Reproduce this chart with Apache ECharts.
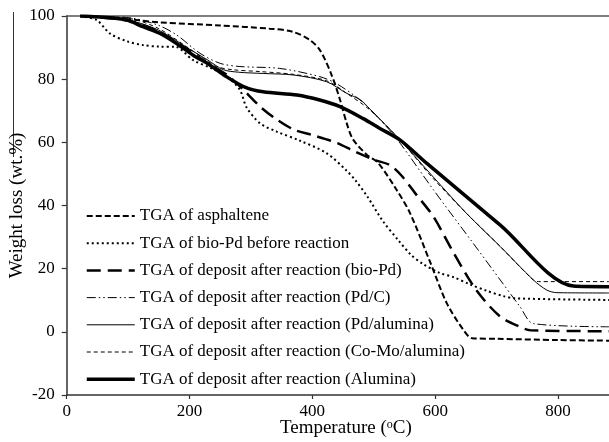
<!DOCTYPE html>
<html>
<head>
<meta charset="utf-8">
<script src="https://cdn.jsdelivr.net/npm/echarts@6/dist/echarts.min.js"></script>
<style>
  html, body { margin: 0; padding: 0; background: #fff; }
  #chart { width: 609px; height: 442px; }
</style>
</head>
<body>
<div id="chart"></div>
<script>
// temperatures (oC) and weight (wt.%)
const aspT = [22, 100, 150, 250, 330, 368, 396, 413, 432, 445, 456, 466, 489, 507, 537, 559, 592, 619, 646, 660, 700, 800, 883];
const aspW = [100, 99, 98, 97, 96, 95, 92.4, 89, 81, 73.5, 66, 61, 56, 53.5, 45, 37.6, 22, 9, 0.6, -2, -2.2, -2.6, -2.8];

const bioT = [22, 49, 70, 98, 124, 152, 176, 206, 235, 261, 282, 293, 315, 342, 380, 423, 456, 470, 489, 515, 540, 560, 580, 608, 630, 657, 684, 711, 730, 883];
const bioW = [100, 98.7, 94.5, 92, 90.8, 90.3, 90.3, 86, 83.5, 80.8, 76.6, 71, 66, 63.4, 60.5, 56.6, 51, 48, 43, 35, 29, 24.5, 21.5, 18.6, 17.3, 15, 13, 11.3, 10.6, 10.1];

const depBioT = [22, 100, 150, 200, 230, 260, 288, 315, 340, 370, 400, 440, 470, 500, 526, 545, 567, 597, 630, 667, 706, 738, 755, 883];
const depBioW = [100, 98.5, 95, 89, 85, 81.5, 76.6, 71.3, 67.5, 64, 62.3, 59.8, 57, 54.5, 52.8, 49.5, 44, 36.5, 25, 13.2, 4.8, 1.6, 0.5, 0.2];

const pdcT = [22, 60, 108, 150, 179, 217, 250, 282, 347, 412, 440, 480, 521, 543, 597, 662, 706, 738, 760, 883];
const pdcW = [100, 99.8, 99.3, 97, 94, 88.2, 85, 84, 83.4, 80.8, 78.5, 73, 64.9, 59.7, 45, 28, 16.4, 8, 2.6, 1.6];

const pdAlT = [22, 60, 100, 150, 200, 230, 255, 280, 320, 370, 423, 456, 478, 494, 543, 597, 651, 706, 760, 782, 798, 883];
const pdAlW = [100, 99.8, 98.8, 95.5, 89.5, 86, 83, 82.2, 81.8, 81.3, 79.2, 75.5, 73.5, 70.5, 60.7, 49, 37.5, 27, 16.4, 13.2, 12.4, 12.3];

const comoT = [22, 60, 108, 150, 195, 220, 244, 270, 315, 370, 423, 456, 494, 543, 597, 651, 706, 760, 771, 883];
const comoW = [100, 99.8, 99, 96, 90.3, 87, 84, 83, 82.4, 81.5, 79.5, 75.5, 70.2, 60.7, 48.5, 37.5, 27, 16.4, 15.9, 15.9];

const aluT = [22, 60, 98, 124, 152, 179, 206, 233, 260, 290, 320, 375, 412, 445, 483, 510, 543, 586, 706, 825, 883];
const aluW = [100, 99.6, 98.7, 96.6, 94.5, 91.3, 87.6, 84.5, 80.8, 77.5, 76, 75, 73.4, 71.3, 67.5, 64.4, 60.7, 53.4, 33.8, 14.5, 14.3];

const names = [
  'TGA of asphaltene',
  'TGA of bio-Pd before reaction',
  'TGA of deposit after reaction (bio-Pd)',
  'TGA of deposit after reaction (Pd/C)',
  'TGA of deposit after reaction (Pd/alumina)',
  'TGA of deposit after reaction (Co-Mo/alumina)',
  'TGA of deposit after reaction (Alumina)'
];
const xTicks = [0, 200, 400, 600, 800];
const yTicks = [-20, 0, 20, 40, 60, 80, 100];

const font = "'Liberation Serif', 'Times New Roman', serif";

// line width and dash for each curve, same order as names
const widths = [2, 2, 2.5, 1, 1, 1, 3.5];
const dashes = [[6, 3], [2, 3], [14, 7], [9, 3, 1.5, 3, 1.5, 3], 'solid', [4, 3], 'solid'];
const temps = [aspT, bioT, depBioT, pdcT, pdAlT, comoT, aluT];
const weights = [aspW, bioW, depBioW, pdcW, pdAlW, comoW, aluW];

function zip(t, w) {
  return t.map((v, i) => [v, w[i]]);
}

let chart = echarts.init(document.getElementById('chart'));
let option = {
  animation: false,
  backgroundColor: '#fff',
  textStyle: { fontFamily: font },
  grid: { left: 66.7, right: 0, top: 16, bottom: 47, outerBoundsMode: 'none', containLabel: false },
  // stray frame line at the top left of the scanned figure
  graphic: [{
    type: 'line',
    shape: { x1: 13.5, y1: 12, x2: 13.5, y2: 157 },
    style: { stroke: '#333', lineWidth: 1 },
    silent: true
  }],
  legend: {
    orient: 'vertical',
    left: 85,
    top: 207.5,
    padding: 0,
    itemWidth: 48,
    itemHeight: 14,
    itemGap: 10.2,
    itemStyle: { opacity: 0 },
    data: names.map((n, i) => ({ name: n, lineStyle: { width: widths[i] } })),
    textStyle: { fontFamily: font, fontSize: 17, lineHeight: 17, color: '#000' }
  },
  xAxis: [{
    type: 'value',
    min: 0,
    max: 883,
    interval: 200,
    name: '{a|Temperature (}{s|o}{a|C)}',
    nameLocation: 'middle',
    nameGap: 24,
    nameMoveOverlap: false,
    nameTextStyle: {
      padding: [0, 0, 0, 16],
      rich: {
        a: { fontFamily: font, fontSize: 19, color: '#000' },
        s: { fontFamily: font, fontSize: 12, color: '#000', verticalAlign: 'top', padding: [0, 0, 7, 0] }
      }
    },
    axisLine: { onZero: false, lineStyle: { color: '#333', width: 1.5 } },
    axisTick: { length: 4, lineStyle: { color: '#333', width: 1.2 } },
    axisLabel: {
      margin: 8, fontFamily: font, fontSize: 17, color: '#000', showMaxLabel: false,
      formatter: v => (xTicks.indexOf(v) >= 0 ? String(v) : '')
    },
    splitLine: { show: false }
  }, {
    type: 'value',
    position: 'top',
    min: 0,
    max: 883,
    axisLine: { show: true, onZero: false, lineStyle: { color: '#555', width: 1.5 } },
    axisTick: { show: false },
    axisLabel: { show: false },
    splitLine: { show: false }
  }],
  yAxis: {
    type: 'value',
    min: -20,
    max: 100,
    interval: 20,
    name: 'Weight loss (wt.%)',
    nameLocation: 'middle',
    nameGap: 40,
    nameMoveOverlap: false,
    nameTextStyle: { fontFamily: font, fontSize: 19, color: '#000' },
    axisLine: { show: true, onZero: false, lineStyle: { color: '#333', width: 1.5 } },
    axisTick: { show: true, length: 5, lineStyle: { color: '#333', width: 1.2 } },
    axisLabel: {
      margin: 12, fontFamily: font, fontSize: 17, color: '#000',
      formatter: v => (yTicks.indexOf(v) >= 0 ? String(v) : '')
    },
    splitLine: { show: false }
  },
  series: names.map((n, i) => ({
    name: n,
    type: 'line',
    data: zip(temps[i], weights[i]),
    smooth: 0.3,
    symbol: 'none',
    lineStyle: { color: '#000', width: widths[i], type: dashes[i] },
    itemStyle: { color: '#000' },
    z: 3
  }))
};
chart.setOption(option);
</script>
</body>
</html>
